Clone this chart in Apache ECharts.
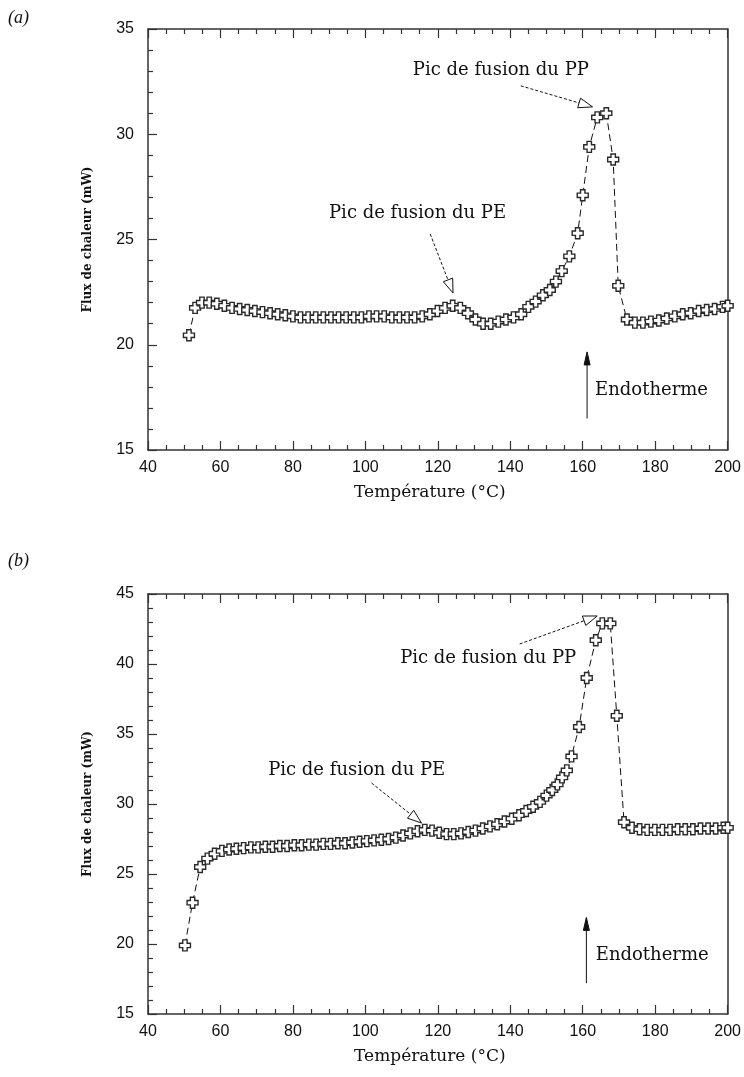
<!DOCTYPE html>
<html><head><meta charset="utf-8">
<script src="https://cdn.jsdelivr.net/npm/echarts@6.0.0/dist/echarts.min.js"></script>
<style>html,body{margin:0;padding:0;background:#fff}#c{width:744px;height:1077px}</style>
</head><body><div id="c"></div><script>
// ---- Data: panel (a) ----
const tempA = [51.3, 53.0, 54.9, 56.9, 59.0, 61.1, 63.2, 65.3, 67.4, 69.5, 71.6, 73.7, 75.8, 77.9, 80.0, 82.1, 84.2, 86.3, 88.4, 90.5, 92.6, 94.7, 96.8, 98.9, 101.0, 103.1, 105.2, 107.3, 109.4, 111.5, 113.6, 115.7, 117.8, 119.9, 122.0, 124.1, 126.2, 128.3, 130.4, 132.5, 134.6, 136.7, 138.8, 140.9, 143.0, 145.0, 147.0, 149.0, 150.9, 152.6, 154.2, 156.3, 158.6, 160.0, 161.8, 164.0, 166.5, 168.4, 169.8, 172.2, 174.4, 176.6, 178.8, 181.0, 183.2, 185.4, 187.6, 189.8, 192.0, 194.2, 196.4, 198.6, 200.0];
const fluxA = [20.45, 21.75, 22.0, 22.0, 21.95, 21.85, 21.75, 21.7, 21.65, 21.6, 21.55, 21.5, 21.45, 21.4, 21.35, 21.3, 21.3, 21.3, 21.3, 21.3, 21.3, 21.3, 21.3, 21.3, 21.35, 21.35, 21.35, 21.3, 21.3, 21.3, 21.3, 21.35, 21.45, 21.6, 21.75, 21.85, 21.75, 21.5, 21.2, 21.0, 21.0, 21.1, 21.2, 21.3, 21.45, 21.8, 22.05, 22.35, 22.6, 23.0, 23.5, 24.2, 25.3, 27.1, 29.4, 30.8, 31.0, 28.8, 22.8, 21.2, 21.05, 21.05, 21.1, 21.15, 21.25, 21.35, 21.45, 21.5, 21.6, 21.65, 21.7, 21.8, 21.85];
// ---- Data: panel (b) ----
const tempB = [50.2, 52.3, 54.4, 56.4, 58.4, 60.4, 62.4, 64.4, 66.4, 68.4, 70.4, 72.4, 74.4, 76.4, 78.4, 80.4, 82.4, 84.4, 86.4, 88.4, 90.4, 92.4, 94.4, 96.4, 98.4, 100.4, 102.4, 104.4, 106.4, 108.4, 110.4, 112.4, 114.4, 116.4, 118.4, 120.4, 122.4, 124.4, 126.4, 128.4, 130.4, 132.4, 134.4, 136.4, 138.4, 140.4, 142.4, 144.4, 146.3, 148.2, 150.0, 151.6, 153.0, 154.3, 155.6, 156.9, 159.0, 161.1, 163.6, 165.4, 167.6, 169.4, 171.4, 173.6, 175.7, 177.8, 179.9, 182.0, 184.1, 186.2, 188.3, 190.4, 192.5, 194.6, 196.7, 198.8, 200.0];
const fluxB = [19.9, 22.95, 25.5, 26.1, 26.45, 26.65, 26.75, 26.8, 26.85, 26.9, 26.9, 26.95, 26.95, 27.0, 27.0, 27.05, 27.05, 27.1, 27.1, 27.15, 27.15, 27.2, 27.2, 27.25, 27.3, 27.35, 27.4, 27.45, 27.5, 27.6, 27.75, 27.9, 28.05, 28.15, 28.1, 27.95, 27.85, 27.85, 27.9, 28.0, 28.1, 28.25, 28.4, 28.55, 28.75, 28.95, 29.2, 29.5, 29.8, 30.15, 30.6, 31.0, 31.4, 31.9, 32.4, 33.4, 35.5, 39.0, 41.7, 42.9, 42.9, 36.3, 28.7, 28.3, 28.2, 28.15, 28.15, 28.15, 28.15, 28.2, 28.2, 28.2, 28.25, 28.25, 28.25, 28.3, 28.3];
// ---- Axis / text ----
const xTitle = 'Température (°C)';
const yTitle = 'Flux de chaleur (mW)';
const panelLabels = ['(a)', '(b)'];
const peText = 'Pic de fusion du PE';
const ppText = 'Pic de fusion du PP';
const endoText = 'Endotherme';

const chart = echarts.init(document.getElementById('c'), null, {renderer: 'canvas'});
const AX = '#333';
const SANS = "'Liberation Sans', Arial, sans-serif";
const SERIF = "'DejaVu Serif', serif";
const plus = 'path://M3,0H7V3H10V7H7V10H3V7H0V3H3Z';

function xAxes(gi) {
  const common = {
    gridIndex: gi, type: 'value', min: 40, max: 200, interval: 20,
    axisLine: {show: true, onZero: false, lineStyle: {color: AX, width: 1.5}},
    axisTick: {show: true, inside: true, length: 9, lineStyle: {color: AX, width: 1.2}},
    minorTick: {show: true, splitNumber: 4, length: 5, lineStyle: {color: AX, width: 1.2}},
    splitLine: {show: false}, minorSplitLine: {show: false}
  };
  return [
    Object.assign({}, common, {position: 'bottom',
      axisLabel: {fontFamily: SANS, fontSize: 16, color: '#111', margin: 10},
      name: xTitle, nameLocation: 'middle', nameGap: 34,
      nameTextStyle: {fontFamily: SERIF, fontSize: 17, color: '#111', padding: [0, 16, 0, 0]}}),
    Object.assign({}, common, {position: 'top', axisLabel: {show: false}})
  ];
}
function yAxes(gi, max) {
  return [
    {gridIndex: gi, type: 'value', min: 15, max: max, interval: 5, position: 'left',
      axisLine: {show: true, onZero: false, lineStyle: {color: AX, width: 1.5}},
      axisTick: {show: true, inside: true, length: 9, lineStyle: {color: AX, width: 1.2}},
      minorTick: {show: true, splitNumber: 5, length: 5, lineStyle: {color: AX, width: 1.2}},
      splitLine: {show: false},
      axisLabel: {fontFamily: SANS, fontSize: 16, color: '#111', margin: 14},
      name: yTitle, nameLocation: 'middle', nameGap: 54,
      nameTextStyle: {fontFamily: SERIF, fontWeight: 'bold', fontSize: 12, color: '#111'}},
    {gridIndex: gi, type: 'value', min: 15, max: max, interval: 5, position: 'right',
      axisLine: {show: true, onZero: false, lineStyle: {color: AX, width: 1.5}},
      axisTick: {show: false}, axisLabel: {show: false}, splitLine: {show: false}}
  ];
}
function series(xi, yi, temps, flux) {
  return {
    type: 'line', xAxisIndex: xi, yAxisIndex: yi,
    data: temps.map((t, i) => [t, flux[i]]),
    symbol: plus, symbolSize: 11, showAllSymbol: true,
    itemStyle: {color: '#fff', borderColor: '#2a2a2a', borderWidth: 1.4},
    lineStyle: {color: '#111', width: 1, type: [7, 4]},
    emphasis: {disabled: true}, animation: false
  };
}

chart.setOption({
  animation: false,
  backgroundColor: '#fff',
  grid: [
    {left: 148, top: 29, width: 583, height: 421},
    {left: 148, top: 594, width: 583, height: 420}
  ],
  xAxis: [...xAxes(0), ...xAxes(1)],
  yAxis: [...yAxes(0, 35), ...yAxes(1, 45)],
  series: [series(0, 0, tempA, fluxA), series(2, 2, tempB, fluxB)]
});

// ---- Annotations (positions given in data coordinates) ----
const annot = [
  {xi: 0, yi: 0, pp: [137.4, 33.05], ppFrom: [142.9, 32.3], ppTip: [162.7, 31.3],
   pe: [114.4, 26.26], peFrom: [117.9, 25.26], peTip: [124.2, 22.46],
   endo: [163.4, 17.85], endoFrom: [161.2, 16.5], endoTip: [161.2, 19.66]},
  {xi: 2, yi: 2, pp: [133.9, 40.43], ppFrom: [142.6, 41.43], ppTip: [164.0, 43.43],
   pe: [97.6, 32.43], peFrom: [101.7, 31.5], peTip: [115.5, 28.64],
   endo: [163.6, 19.2], endoFrom: [161.0, 17.2], endoTip: [161.0, 21.9]}
];
function P(a, v) { return chart.convertToPixel({xAxisIndex: a.xi, yAxisIndex: a.yi}, v); }
function arrow(from, tip, len, half, fill, dashed) {
  const dx = tip[0] - from[0], dy = tip[1] - from[1];
  const L = Math.hypot(dx, dy), ux = dx / L, uy = dy / L;
  const bx = tip[0] - ux * len, by = tip[1] - uy * len;
  return [
    {type: 'line', shape: {x1: from[0], y1: from[1], x2: fill ? bx : tip[0] - ux * 3, y2: fill ? by : tip[1] - uy * 3},
     style: {stroke: '#111', lineWidth: 1, lineDash: dashed ? [3, 2] : null}, z: 20},
    {type: 'polygon', shape: {points: [tip, [bx - uy * half, by + ux * half], [bx + uy * half, by - ux * half]]},
     style: {fill: fill ? '#111' : '#fff', stroke: '#111', lineWidth: 1}, z: 21}
  ];
}
const g = [];
annot.forEach((a, i) => {
  const t = (pos, text, align) => ({type: 'text', x: pos[0], y: pos[1], z: 22,
    style: {text: text, font: "18px 'DejaVu Serif', serif", fill: '#111', align: align || 'center', verticalAlign: 'middle'}});
  g.push(t(P(a, a.pp), ppText));
  g.push(...arrow(P(a, a.ppFrom), P(a, a.ppTip), 14, 5, false, true));
  g.push(t(P(a, a.pe), peText));
  g.push(...arrow(P(a, a.peFrom), P(a, a.peTip), 14, 5, false, true));
  g.push(t(P(a, a.endo), endoText, 'left'));
  g.push(...arrow(P(a, a.endoFrom), P(a, a.endoTip), 13, 3, true, false));
});
g.push({type: 'text', left: 8, top: 9, style: {text: panelLabels[0], font: "italic 18px 'Liberation Serif', serif", fill: '#111'}});
g.push({type: 'text', left: 8, top: 552, style: {text: panelLabels[1], font: "italic 18px 'Liberation Serif', serif", fill: '#111'}});
chart.setOption({graphic: g});
</script></body></html>
